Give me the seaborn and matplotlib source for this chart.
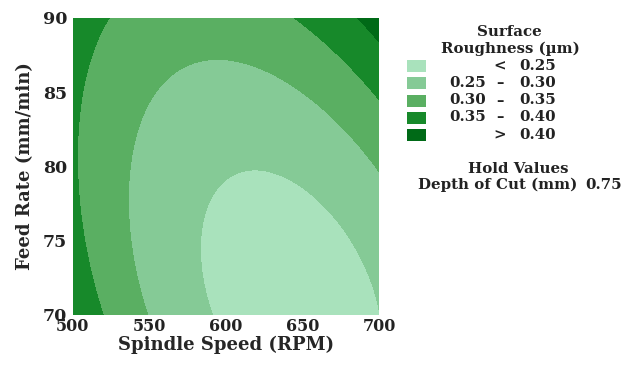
import numpy as np
import matplotlib
matplotlib.use("Agg")
import matplotlib.pyplot as plt
from matplotlib.patches import Rectangle
import seaborn as sns

# Points read off the contour boundaries (speed RPM, feed mm/min, roughness um)
speed = [591.3, 583.5, 587.4, 616.8, 635, 655, 674.5, 687.6, 697, 700,
         549, 540, 536, 537, 550, 591.7, 613.5, 637.5, 668, 693, 700,
         525, 508.9, 504.4, 503.3, 505.5, 510.9, 519.8, 646, 672, 700,
         685.4, 700]
feed = [70.1, 75.05, 77.3, 79.95, 79.54, 78.2, 75.95, 73.7, 71.46, 70.8,
        70, 73.4, 76.7, 80.1, 83.5, 87.46, 86.8, 85.7, 83.5, 80.4, 79.77,
        90, 86.8, 83.5, 80.1, 76.7, 73.4, 70, 90, 87.5, 84.6,
        90, 88.4]
roughness = [0.25] * 10 + [0.30] * 11 + [0.35] * 10 + [0.40] * 2

levels = [0.25, 0.30, 0.35, 0.40]
lo_labels = ["", "0.25", "0.30", "0.35", ""]
signs = ["<", "\u2013", "\u2013", "\u2013", ">"]
hi_labels = ["0.25", "0.30", "0.35", "0.40", "0.40"]
colors = ["#a9e2bc", "#85ca96", "#5aaf62", "#17892a", "#006a17"]
x_ticks = [500, 550, 600, 650, 700]
y_ticks = [70, 75, 80, 85, 90]
hold_depth = 0.75

sns.set_theme(style="white")
plt.rcParams["font.family"] = ["DejaVu Serif"]
plt.rcParams["font.weight"] = "bold"
plt.rcParams["text.color"] = "#222222"


def terms(s, f):
    return [np.ones_like(s), s, f, s**2, f**2, s * f, s**3, s**2 * f, s * f**2, f**3]


# smooth response surface fitted to the read contour points
s = (np.array(speed) - 600) / 100
f = (np.array(feed) - 80) / 10
A = np.column_stack(terms(s, f))
coef, *_ = np.linalg.lstsq(A, np.array(roughness), rcond=None)

gx, gy = np.meshgrid(np.linspace(500, 700, 300), np.linspace(70, 90, 300))
gz = sum(c * t for c, t in zip(coef, terms((gx - 600) / 100, (gy - 80) / 10)))

fig = plt.figure(figsize=(6.34, 3.65), dpi=100)
ax = fig.add_axes([0.115, 0.137, 0.483, 0.814])
bounds = [min(gz.min(), 0.0) - 1] + levels + [max(gz.max(), 1.0) + 1]
ax.contourf(gx, gy, gz, levels=bounds, colors=colors)

ax.set_xlim(500, 700)
ax.set_ylim(70, 90)
ax.set_xticks(x_ticks)
ax.set_yticks(y_ticks)
ax.tick_params(axis="x", length=0, labelsize=11.5, pad=2, labelcolor="#222222")
ax.tick_params(axis="y", length=0, labelsize=12.5, pad=4, labelcolor="#222222")
for lab in ax.get_xticklabels() + ax.get_yticklabels():
    lab.set_fontweight("bold")
ax.set_xlabel("Spindle Speed (RPM)", fontsize=13, fontweight="bold", labelpad=1)
ax.set_ylabel("Feed Rate (mm/min)", fontsize=13, fontweight="bold", labelpad=6)
for sp in ax.spines.values():
    sp.set_visible(False)

# legend drawn in figure pixel coordinates
W, H = 634, 365
def ftext(x, y, t, ha="left", size=10.8):
    fig.text(x / W, 1 - y / H, t, ha=ha, va="center", fontsize=size, fontweight="bold")

ftext(509, 32, "Surface", ha="center")
ftext(510, 49, "Roughness (\u00b5m)", ha="center")
row_y = [66, 83, 100.5, 117.5, 135]
for i, c in enumerate(colors):
    fig.patches.append(Rectangle((407 / W, 1 - (row_y[i] + 6) / H), 19 / W, 12 / H,
                                 transform=fig.transFigure, facecolor=c, edgecolor="none"))
    ftext(500, row_y[i], signs[i], ha="center")
    ftext(556, row_y[i], hi_labels[i], ha="right")
    if lo_labels[i]:
        ftext(449, row_y[i], lo_labels[i], ha="left")

ftext(518, 169, "Hold Values", ha="center")
ftext(418, 185, "Depth of Cut (mm)", ha="left")
ftext(622, 185, f"{hold_depth:.2f}", ha="right")

fig.savefig("out.png", dpi=100)
